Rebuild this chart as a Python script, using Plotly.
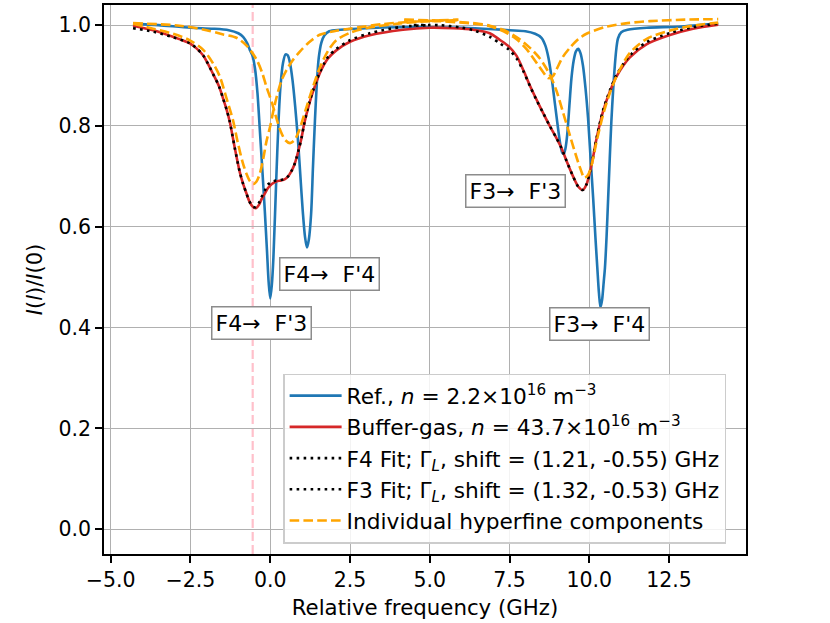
import plotly.graph_objects as go

# ---------------- data ----------------
ref_x = [-4.3, -3.5, -2.5, -1.8, -1.3, -1.0, -0.85, -0.72, -0.64, -0.56, -0.48, -0.40, -0.33, -0.25,
         -0.17, -0.10, -0.05, 0.0, 0.05, 0.10, 0.19, 0.26, 0.32, 0.40, 0.48, 0.55, 0.62, 0.70, 0.78,
         0.86, 0.94, 1.02, 1.09, 1.15, 1.21, 1.28, 1.34, 1.40, 1.46, 1.52, 1.60, 1.70, 1.85, 2.2,
         3.0, 4.0, 5.0, 6.0, 7.0, 7.5, 8.0, 8.3, 8.5, 8.62, 8.72, 8.82, 8.92, 9.02, 9.10, 9.16, 9.20,
         9.25, 9.31, 9.38, 9.44, 9.51, 9.58, 9.65, 9.72, 9.80, 9.88, 9.96, 10.04, 10.12, 10.19, 10.25,
         10.30, 10.35, 10.40, 10.45, 10.49, 10.54, 10.59, 10.64, 10.69, 10.75, 10.80, 10.85, 10.90,
         11.0, 11.2, 11.8, 12.8, 14.04]
ref_y = [1.003, 1.0, 0.995, 0.993, 0.990, 0.984, 0.977, 0.964, 0.951, 0.94, 0.915, 0.865, 0.796, 0.715,
         0.631, 0.55, 0.49, 0.458, 0.485, 0.54, 0.697, 0.81, 0.878, 0.925, 0.942, 0.94, 0.925, 0.89, 0.84,
         0.78, 0.705, 0.63, 0.58, 0.559, 0.575, 0.625, 0.72, 0.81, 0.885, 0.935, 0.965, 0.980, 0.988, 0.991,
         0.994, 0.996, 0.996, 0.995, 0.992, 0.990, 0.988, 0.983, 0.975, 0.96, 0.935, 0.895, 0.845, 0.795,
         0.76, 0.746, 0.745, 0.755, 0.785, 0.845, 0.895, 0.93, 0.948, 0.953, 0.945, 0.92, 0.875, 0.816,
         0.735, 0.657, 0.58, 0.519, 0.47, 0.44, 0.455, 0.49, 0.519, 0.58, 0.657, 0.735, 0.809, 0.875,
         0.921, 0.955, 0.974, 0.986, 0.991, 0.995, 0.997, 1.003]

buf_x = [-4.3, -3.67, -3.05, -2.52, -2.31, -2.1, -1.79, -1.6, -1.48, -1.37, -1.27, -1.11, -0.96, -0.85,
         -0.75, -0.65, -0.55, -0.45, -0.35, -0.28, -0.17, -0.07, 0.05, 0.19, 0.33, 0.45, 0.56, 0.66,
         0.75, 0.82, 0.90, 0.98, 1.05, 1.13, 1.24, 1.34, 1.45, 1.55, 1.68, 1.81, 2.07, 2.5, 3.12, 4.16,
         5.0, 5.73, 6.36, 6.88, 7.19, 7.49, 7.72, 7.93, 8.14, 8.34, 8.55, 8.76, 8.97, 9.13, 9.29, 9.49,
         9.65, 9.79, 9.91, 10.07, 10.23, 10.43, 10.64, 10.85, 11.27, 11.79, 12.5, 13.25, 14.04]
buf_y = [0.999, 0.99, 0.977, 0.964, 0.954, 0.940, 0.903, 0.878, 0.855, 0.833, 0.809, 0.756, 0.710, 0.685,
         0.667, 0.650, 0.640, 0.637, 0.644, 0.654, 0.666, 0.677, 0.685, 0.690, 0.692, 0.694, 0.700, 0.710,
         0.722, 0.736, 0.755, 0.776, 0.80, 0.822, 0.848, 0.868, 0.888, 0.904, 0.921, 0.934, 0.950, 0.967,
         0.980, 0.991, 0.995, 0.994, 0.991, 0.984, 0.971, 0.957, 0.939, 0.911, 0.880, 0.853, 0.826, 0.800,
         0.776, 0.756, 0.730, 0.700, 0.680, 0.673, 0.684, 0.723, 0.776, 0.829, 0.868, 0.898, 0.936, 0.962,
         0.980, 0.993, 1.001]

fit4_x = [-4.3, -3.67, -3.05, -2.52, -2.31, -2.1, -1.79, -1.6, -1.48, -1.37, -1.27, -1.11, -0.96, -0.85,
          -0.75, -0.65, -0.55, -0.45, -0.35, -0.28, -0.17, -0.07, 0.05, 0.19, 0.33, 0.45, 0.56, 0.66,
          0.75, 0.82, 0.90, 0.98, 1.05, 1.13, 1.24, 1.34, 1.45, 1.55, 1.68, 1.81, 2.07, 2.5, 3.12, 4.16,
          5.0]
fit4_y = [0.994, 0.987, 0.976, 0.964, 0.954, 0.940, 0.903, 0.878, 0.855, 0.833, 0.809, 0.756, 0.710, 0.685,
          0.667, 0.650, 0.640, 0.639, 0.648, 0.658, 0.672, 0.684, 0.689, 0.692, 0.693, 0.695, 0.700, 0.710,
          0.722, 0.736, 0.755, 0.776, 0.80, 0.823, 0.850, 0.870, 0.890, 0.906, 0.923, 0.937, 0.953, 0.970,
          0.984, 0.997, 1.0]

fit3_x = [4.5, 5.31, 6.0, 6.36, 6.88, 7.19, 7.49, 7.72, 7.93, 8.14, 8.34, 8.55, 8.76, 8.97, 9.13, 9.29,
          9.49, 9.65, 9.79, 9.91, 10.07, 10.23, 10.43, 10.64, 10.85, 11.27, 11.79, 12.5, 13.25, 14.04]
fit3_y = [1.0, 1.0, 0.995, 0.99, 0.977, 0.964, 0.951, 0.934, 0.909, 0.879, 0.852, 0.826, 0.800, 0.776,
          0.756, 0.730, 0.700, 0.680, 0.673, 0.684, 0.723, 0.777, 0.831, 0.870, 0.901, 0.940, 0.966, 0.984,
          0.996, 1.003]

# individual hyperfine components (orange dashed)
f4f3_x = [-4.3, -3.67, -3.05, -2.52, -2.1, -1.79, -1.58, -1.38, -1.17, -1.01, -0.86, -0.75, -0.64, -0.53,
          -0.43, -0.33, -0.22, -0.12, 0.0, 0.09, 0.19, 0.35, 0.51, 0.7, 0.92, 1.2, 1.55, 2.0, 2.5, 3.5,
          4.5, 5.9]
f4f3_y = [1.003, 0.993, 0.983, 0.970, 0.951, 0.924, 0.898, 0.857, 0.812, 0.765, 0.727, 0.706, 0.691, 0.685,
          0.690, 0.705, 0.735, 0.769, 0.80, 0.828, 0.855, 0.89, 0.911, 0.93, 0.947, 0.965, 0.981, 0.988,
          0.993, 1.002, 1.007, 1.011]

f4f4_x = [-4.3, -2.84, -2.0, -1.5, -1.06, -0.75, -0.43, -0.25, -0.12, 0.05, 0.19, 0.33, 0.47, 0.62, 0.76,
          0.9, 1.1, 1.3, 1.55, 1.81, 2.07, 2.5, 3.0, 4.0, 5.0, 5.9]
f4f4_y = [1.004, 0.999, 0.99, 0.982, 0.975, 0.96, 0.932, 0.905, 0.878, 0.847, 0.816, 0.789, 0.772, 0.766,
          0.772, 0.79, 0.83, 0.87, 0.915, 0.949, 0.97, 0.985, 0.994, 1.003, 1.008, 1.010]

f3f3_x = [4.2, 5.3, 6.36, 6.88, 7.4, 7.72, 8.04, 8.35, 8.55, 8.71, 8.85, 8.97, 9.17, 9.39, 9.65, 9.91,
          10.54, 11.2, 11.9, 13.0, 14.04]
f3f3_y = [1.010, 1.008, 1.003, 0.998, 0.985, 0.972, 0.952, 0.925, 0.907, 0.895, 0.898, 0.912, 0.937, 0.955,
          0.972, 0.983, 0.997, 1.004, 1.008, 1.011, 1.012]

f3f4_x = [4.2, 5.3, 6.36, 6.88, 7.4, 7.82, 8.14, 8.45, 8.76, 8.97, 9.18, 9.28, 9.42, 9.55, 9.65, 9.75,
          9.84, 9.95, 10.07, 10.23, 10.43, 10.64, 10.9, 11.27, 11.8, 12.5, 13.25, 14.04]
f3f4_y = [1.011, 1.009, 1.004, 0.999, 0.988, 0.972, 0.955, 0.934, 0.902, 0.87, 0.826, 0.805, 0.775, 0.748,
          0.728, 0.71, 0.697, 0.702, 0.722, 0.77, 0.822, 0.865, 0.905, 0.945, 0.973, 0.989, 0.999, 1.005]

shift_line_x = -0.55

labels = ["F4→  F'3", "F4→  F'4", "F3→  F'3", "F3→  F'4"]
label_x = [-0.26, 1.86, 7.70, 10.32]
label_y = [0.410, 0.507, 0.671, 0.407]

xtick_vals = [-5.0, -2.5, 0.0, 2.5, 5.0, 7.5, 10.0, 12.5]
xtick_text = ["−5.0", "−2.5", "0.0", "2.5", "5.0", "7.5", "10.0", "12.5"]
ytick_vals = [0.0, 0.2, 0.4, 0.6, 0.8, 1.0]
ytick_text = ["0.0", "0.2", "0.4", "0.6", "0.8", "1.0"]

# ---------------- figure ----------------
FONT = "DejaVu Sans"
BLUE = "#1f77b4"
RED = "#d62728"
ORANGE = "#ffa500"
LW = 2.6

fig = go.Figure()
fig.add_trace(go.Scatter(x=ref_x, y=ref_y, mode="lines",
                         line=dict(color=BLUE, width=LW, shape="spline", smoothing=0.8),
                         name="Ref., <i>n</i> = 2.2×10<sup>16</sup> m<sup>−3</sup>"))
fig.add_trace(go.Scatter(x=buf_x, y=buf_y, mode="lines",
                         line=dict(color=RED, width=LW, shape="spline", smoothing=0.8),
                         name="Buffer-gas, <i>n</i> = 43.7×10<sup>16</sup> m<sup>−3</sup>"))
fig.add_trace(go.Scatter(x=fit4_x, y=fit4_y, mode="lines",
                         line=dict(color="black", width=LW, dash="2.6px,4.4px", shape="spline", smoothing=0.8),
                         name="F4 Fit; Γ<sub><i>L</i></sub>, shift = (1.21, -0.55) GHz"))
fig.add_trace(go.Scatter(x=fit3_x, y=fit3_y, mode="lines",
                         line=dict(color="black", width=LW, dash="2.6px,4.4px", shape="spline", smoothing=0.8),
                         name="F3 Fit; Γ<sub><i>L</i></sub>, shift = (1.32, -0.53) GHz"))
comps = [(f4f3_x, f4f3_y), (f4f4_x, f4f4_y), (f3f3_x, f3f3_y), (f3f4_x, f3f4_y)]
for i, (cx, cy) in enumerate(comps):
    fig.add_trace(go.Scatter(x=cx, y=cy, mode="lines",
                             line=dict(color=ORANGE, width=LW, dash="9.6px,4.2px", shape="spline", smoothing=0.8),
                             name="Individual hyperfine components", showlegend=(i == 0),
                             legendgroup="comps"))

fig.add_shape(type="line", x0=shift_line_x, x1=shift_line_x, xref="x", y0=0, y1=1, yref="paper",
              line=dict(color="pink", width=2.2, dash="9px,4px"), layer="below")

for t, ax_, ay_ in zip(labels, label_x, label_y):
    fig.add_annotation(x=ax_, y=ay_, xref="x", yref="y", text=t, showarrow=False,
                       font=dict(family=FONT, size=22, color="black"),
                       bgcolor="white", bordercolor="#8c8c8c", borderwidth=1.5, borderpad=3)

axis_common = dict(showline=True, linecolor="black", linewidth=1.5, mirror=True,
                   ticks="outside", ticklen=7, tickwidth=1.5, tickcolor="black",
                   showgrid=True, gridcolor="#b0b0b0", gridwidth=1.3, zeroline=False,
                   tickfont=dict(family=FONT, size=20.5, color="black"))

fig.update_xaxes(range=[-5.21, 14.91], tickvals=xtick_vals, ticktext=xtick_text,
                 title=dict(text="Relative frequency (GHz)", font=dict(family=FONT, size=21.3, color="black"),
                            standoff=9),
                 **axis_common)
fig.update_yaxes(range=[-0.049, 1.040], tickvals=ytick_vals, ticktext=ytick_text,
                 title=dict(text="<i>I</i>(<i>l</i>)/<i>I</i>(0)", font=dict(family=FONT, size=21, color="black"),
                            standoff=10),
                 **axis_common)

fig.update_layout(
    width=830, height=623,
    margin=dict(l=104, r=84, t=3, b=69),
    paper_bgcolor="white", plot_bgcolor="white",
    font=dict(family=FONT, size=21, color="black"),
    legend=dict(x=0.279, y=0.019, xanchor="left", yanchor="bottom",
                bgcolor="rgba(255,255,255,0.85)", bordercolor="#cccccc", borderwidth=1.5,
                font=dict(family=FONT, size=21.7, color="black"), itemwidth=52,
                tracegroupgap=0),
    showlegend=True,
)

fig.write_html("out.html", config={"displayModeBar": False},
               post_script="document.body.style.margin='0';")
